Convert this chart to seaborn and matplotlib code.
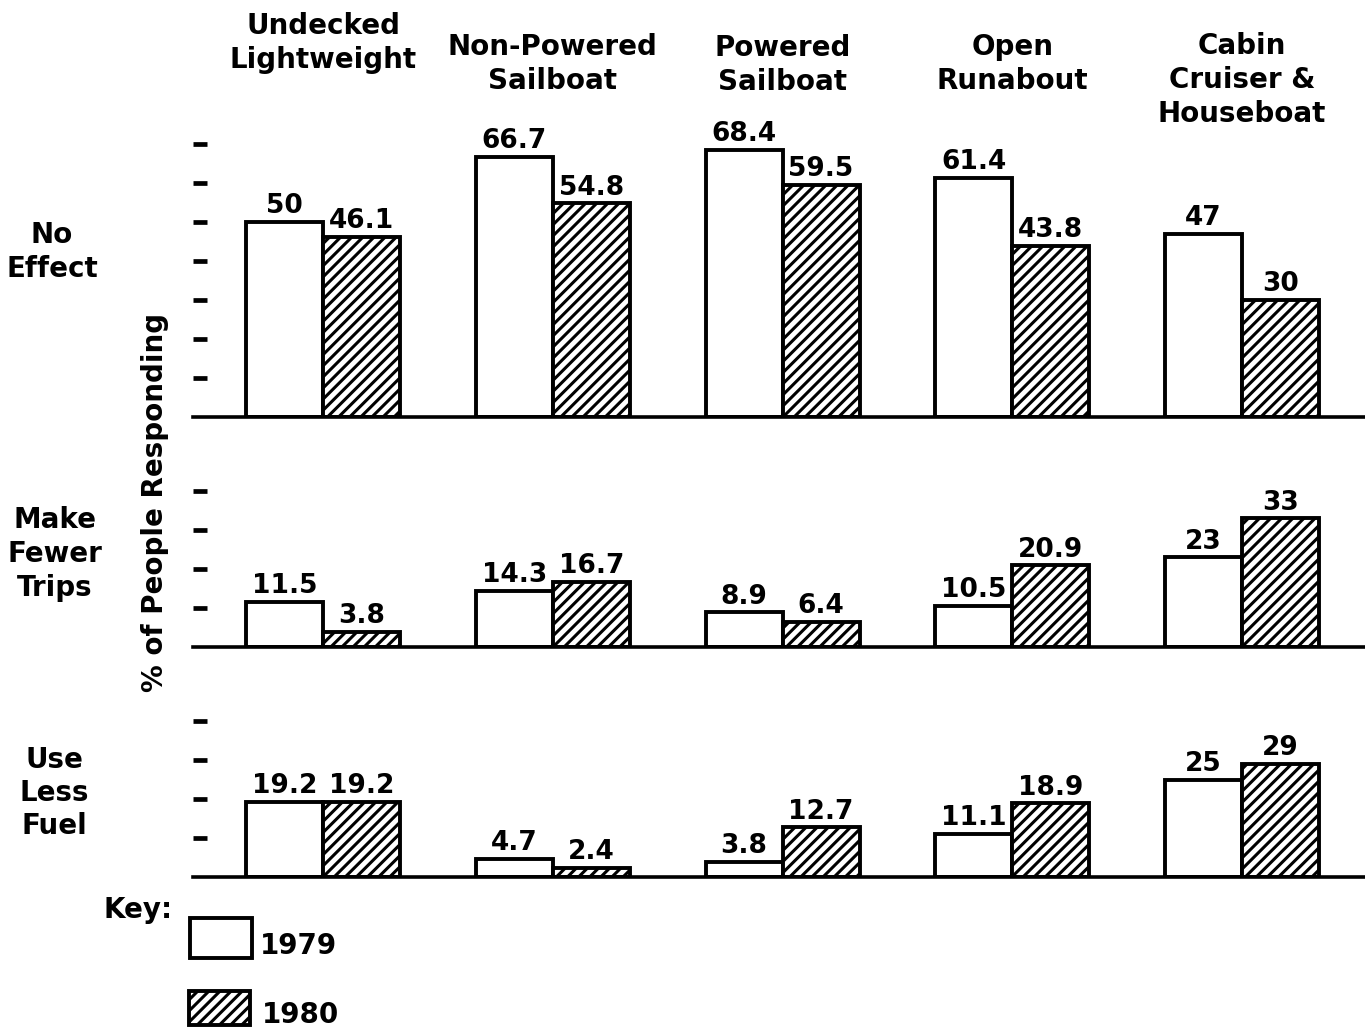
import matplotlib
matplotlib.use("Agg")
import matplotlib.pyplot as plt
import matplotlib.transforms as mtransforms
from matplotlib.patches import Rectangle
import seaborn as sns
import pandas as pd

# ---------------- data ----------------
categories = ["Undecked\nLightweight", "Non-Powered\nSailboat", "Powered\nSailboat",
              "Open\nRunabout", "Cabin\nCruiser &\nHouseboat"]
years = ["1979", "1980"]
row_labels = ["No\nEffect", "Make\nFewer\nTrips", "Use\nLess\nFuel"]

no_effect_1979 = [50, 66.7, 68.4, 61.4, 47]
no_effect_1980 = [46.1, 54.8, 59.5, 43.8, 30]
fewer_trips_1979 = [11.5, 14.3, 8.9, 10.5, 23]
fewer_trips_1980 = [3.8, 16.7, 6.4, 20.9, 33]
less_fuel_1979 = [19.2, 4.7, 3.8, 11.1, 25]
less_fuel_1980 = [19.2, 2.4, 12.7, 18.9, 29]

panels = [
    (no_effect_1979, no_effect_1980, [10, 20, 30, 40, 50, 60, 70], 72),
    (fewer_trips_1979, fewer_trips_1980, [10, 20, 30, 40], 42),
    (less_fuel_1979, less_fuel_1980, [10, 20, 30, 40], 42),
]

# ---------------- style ----------------
sns.set_style("white")
plt.rcParams["font.family"] = ["DejaVu Sans"]
plt.rcParams["font.weight"] = "bold"
plt.rcParams["text.color"] = "black"
plt.rcParams["hatch.linewidth"] = 2.2
plt.rcParams["hatch.color"] = "black"

W, H = 1365, 1030
fig = plt.figure(figsize=(W / 100, H / 100), dpi=100)
fig.patch.set_facecolor("white")

HATCH = "///"
px_per_unit = 3.9
left_px, right_px = 193, 1365
baselines_px = [417, 647, 877]

axes = []
for (v79, v80, ticks, ymax), base in zip(panels, baselines_px):
    h_px = ymax * px_per_unit
    ax = fig.add_axes([left_px / W, 1 - base / H, (right_px - left_px) / W, h_px / H])
    df = pd.DataFrame({
        "category": categories * 2,
        "year": [years[0]] * len(categories) + [years[1]] * len(categories),
        "value": list(v79) + list(v80),
    })
    sns.barplot(data=df, x="category", y="value", hue="year", order=categories,
                hue_order=years, palette=["white", "white"], saturation=1,
                edgecolor="black", linewidth=2.8, width=0.67, gap=0,
                errorbar=None, legend=False, ax=ax)
    for bar in ax.containers[1]:
        bar.set_hatch(HATCH)
    for cont in ax.containers:
        ax.bar_label(cont, fmt="%g", padding=2, fontsize=19, fontweight="bold",
                     color="black")
    ax.set_xlim(-0.566, 4.535)
    ax.set_ylim(0, ymax)
    ax.set_yticks(ticks)
    ax.tick_params(axis="y", direction="in", length=10, width=3.4, color="black",
                   labelleft=False, left=True)
    ax.tick_params(axis="x", bottom=False, labelbottom=False)
    ax.set_xlabel("")
    ax.set_ylabel("")
    for s in ["left", "top", "right"]:
        ax.spines[s].set_visible(False)
    ax.spines["bottom"].set_linewidth(2.6)
    ax.spines["bottom"].set_color("black")
    ax.set_facecolor("none")
    axes.append(ax)

# category headers (x in data coords of top axes, y in figure coords)
trans = mtransforms.blended_transform_factory(axes[0].transData, fig.transFigure)
header_y_px = [43, 64, 65, 64, 80]
for i, (cat, ypx) in enumerate(zip(categories, header_y_px)):
    axes[0].text(i, 1 - ypx / H, cat, transform=trans, ha="center", va="center",
                 fontsize=20, fontweight="bold", linespacing=1.25, clip_on=False,
                 color="black")

# row labels
row_y_px = [252, 554, 793]
row_x_px = [52, 55, 54]
for lab, ypx, xpx in zip(row_labels, row_y_px, row_x_px):
    fig.text(xpx / W, 1 - ypx / H, lab, ha="center", va="center", fontsize=20,
             fontweight="bold", linespacing=1.25, color="black")

# y label
fig.text(155 / W, 1 - 502 / H, "% of People Responding", rotation=90, ha="center",
         va="center", fontsize=20, fontweight="bold", color="black")

# key
fig.text(138 / W, 1 - 910 / H, "Key:", ha="center", va="center", fontsize=20,
         fontweight="bold", color="black")
fig.add_artist(Rectangle((190 / W, 1 - 958 / H), 62 / W, 40 / H, transform=fig.transFigure,
                         facecolor="white", edgecolor="black", linewidth=2.8))
fig.text(260 / W, 1 - 946 / H, years[0], ha="left", va="center", fontsize=20,
         fontweight="bold", color="black")
fig.add_artist(Rectangle((189 / W, 1 - 1025 / H), 61 / W, 34 / H, transform=fig.transFigure,
                         facecolor="white", edgecolor="black", linewidth=2.8, hatch=HATCH))
fig.text(262 / W, 1 - 1015 / H, years[1], ha="left", va="center", fontsize=20,
         fontweight="bold", color="black")

fig.savefig("out.png", dpi=100, facecolor="white")
